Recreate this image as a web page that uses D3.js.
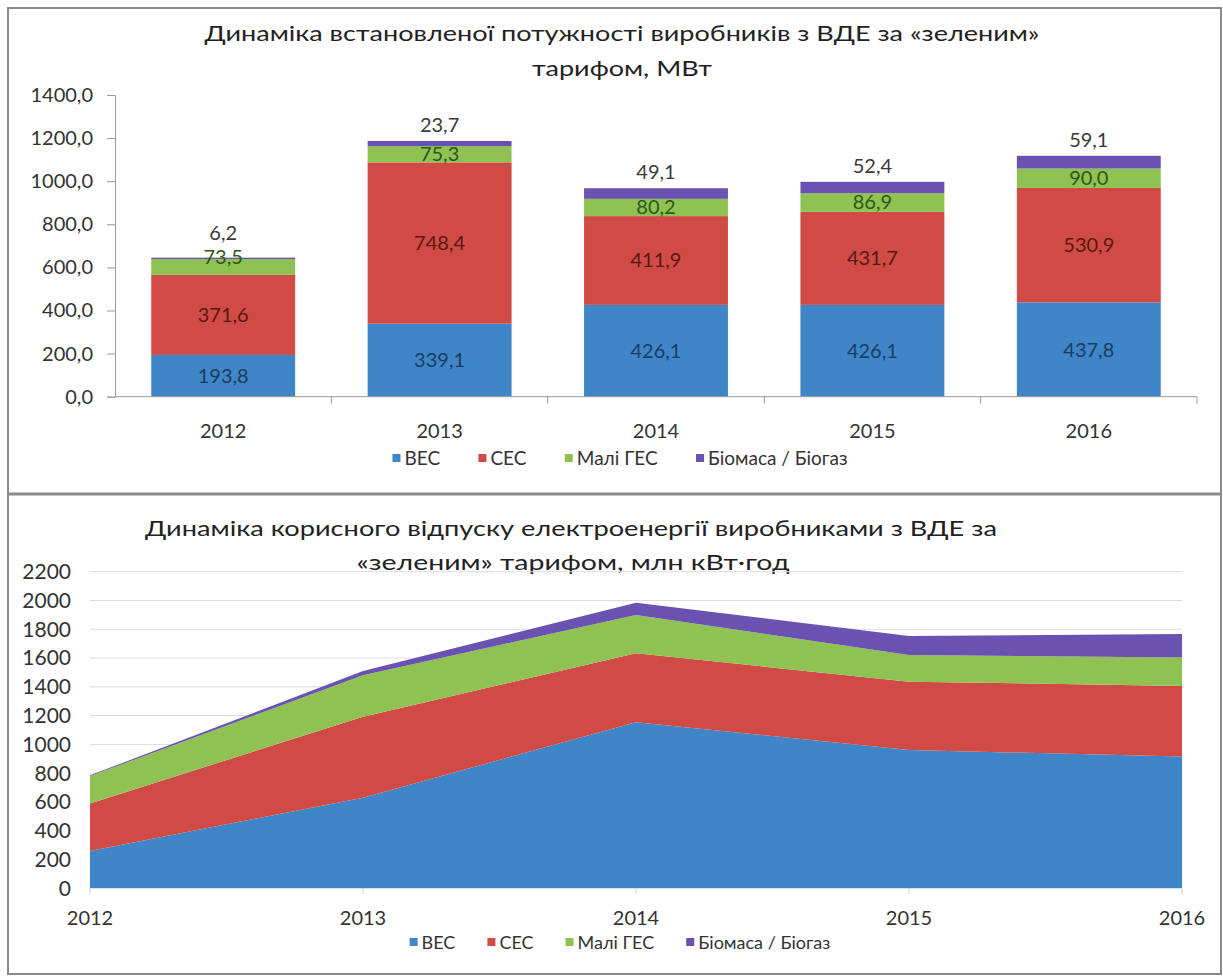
<!DOCTYPE html>
<html lang="uk">
<head>
<meta charset="utf-8">
<script src="https://cdn.jsdelivr.net/npm/d3@7"></script>
<style>
  html, body { margin: 0; padding: 0; background: #fff; }
  svg { display: block; font-family: Lato, "Open Sans", sans-serif; }
</style>
</head>
<body>
<svg id="chart" width="1223" height="979"></svg>
<script>
// Years shared by both charts
const years = ["2012", "2013", "2014", "2015", "2016"];
const seriesNames = ["ВЕС", "СЕС", "Малі ГЕС", "Біомаса / Біогаз"];
const seriesKeys = ["wind", "solar", "hydro", "bio"];

// Installed capacity, MW
const capWind  = [193.8, 339.1, 426.1, 426.1, 437.8];
const capSolar = [371.6, 748.4, 411.9, 431.7, 530.9];
const capHydro = [73.5, 75.3, 80.2, 86.9, 90.0];
const capBio   = [6.2, 23.7, 49.1, 52.4, 59.1];
const capTicks = [0, 200, 400, 600, 800, 1000, 1200, 1400];

// Electricity supplied, mln kWh
const genWind  = [260, 630, 1154, 961, 915];
const genSolar = [330, 562, 479, 475, 491];
const genHydro = [190, 288, 266, 185, 197];
const genBio   = [5, 30, 86, 132, 164];
const genTicks = [0, 200, 400, 600, 800, 1000, 1200, 1400, 1600, 1800, 2000, 2200];

const colors = { wind: "#3e86c8", solar: "#d04b45", hydro: "#90c253", bio: "#6a52b2" };
const labelColors = { wind: "#1c3c60", solar: "#5a1713", hydro: "#2d5816", bio: "#3a3a3a" };

const ua = d3.formatLocale({ decimal: ",", thousands: "", grouping: [3], currency: ["", ""] });
const fmt1 = ua.format(".1f");

const svg = d3.select("#chart");

// Panel frames
svg.append("rect").attr("x", 8).attr("y", 8).attr("width", 1213).attr("height", 966)
  .attr("fill", "#fff").attr("stroke", "#8a8a8a").attr("stroke-width", 2);
svg.append("line").attr("x1", 8).attr("x2", 1221).attr("y1", 494).attr("y2", 494)
  .attr("stroke", "#8a8a8a").attr("stroke-width", 3);

function legend(g, cx, y, size, gap) {
  const items = g.selectAll("g.item").data(seriesKeys).join("g").attr("class", "item");
  items.append("rect").attr("width", 8).attr("height", 8).attr("y", -5)
    .attr("fill", d => colors[d]);
  items.append("text").attr("x", 12).attr("y", 0).attr("dy", "0.32em")
    .attr("font-size", size).attr("fill", "#333")
    .text((d, i) => seriesNames[i]);
  let x = 0;
  const offsets = [];
  items.each(function () {
    offsets.push(x);
    x += this.getBBox().width + gap;
  });
  const total = x - gap;
  items.attr("transform", (d, i) => `translate(${cx - total / 2 + offsets[i]},${y})`);
}

// ---------- Top: stacked bars of installed capacity ----------
{
  const left = 115, right = 1197, y0 = 396.7, y1 = 95;
  const rows = years.map((yr, i) => ({ year: yr, wind: capWind[i], solar: capSolar[i], hydro: capHydro[i], bio: capBio[i] }));
  const x = d3.scaleBand().domain(years).range([left, right]).padding(0);
  const y = d3.scaleLinear().domain([0, 1400]).range([y0, y1]);
  const barW = x.bandwidth() * 0.665;
  const stacked = d3.stack().keys(seriesKeys)(rows);

  const g = svg.append("g");

  g.append("text").attr("x", 622).attr("y", 33).attr("dy", "0.35em")
    .attr("text-anchor", "middle").attr("font-size", 22).attr("fill", "#222")
    .attr("textLength", 835).attr("lengthAdjust", "spacingAndGlyphs")
    .text("Динаміка встановленої потужності виробників з ВДЕ за «зеленим»");
  g.append("text").attr("x", 622).attr("y", 68).attr("dy", "0.35em")
    .attr("text-anchor", "middle").attr("font-size", 22).attr("fill", "#222")
    .attr("textLength", 180).attr("lengthAdjust", "spacingAndGlyphs")
    .text("тарифом, МВт");

  // bars
  g.selectAll("g.layer").data(stacked).join("g").attr("class", "layer")
    .attr("fill", d => colors[d.key])
    .selectAll("rect").data(d => d).join("rect")
    .attr("x", d => x(d.data.year) + (x.bandwidth() - barW) / 2)
    .attr("width", barW)
    .attr("y", d => y(d[1]))
    .attr("height", d => y(d[0]) - y(d[1]));

  // y axis
  const ya = d3.axisLeft(y).tickValues(capTicks).tickFormat(fmt1).tickSize(8).tickPadding(14);
  const yg = g.append("g").attr("transform", `translate(${left},0)`).call(ya);
  yg.select(".domain").attr("stroke", "#9a9a9a");
  yg.selectAll(".tick line").attr("stroke", "#9a9a9a");
  yg.selectAll(".tick text").attr("font-size", 20).attr("fill", "#333")
    .attr("font-family", "Lato, sans-serif");

  // x axis: baseline with tick marks between categories
  g.append("line").attr("x1", left).attr("x2", right).attr("y1", y0).attr("y2", y0)
    .attr("stroke", "#9a9a9a");
  g.selectAll("line.cat").data(years).join("line").attr("class", "cat")
    .attr("x1", d => x(d) + x.bandwidth()).attr("x2", d => x(d) + x.bandwidth())
    .attr("y1", y0).attr("y2", y0 + 7).attr("stroke", "#9a9a9a");
  g.selectAll("text.year").data(years).join("text").attr("class", "year")
    .attr("x", d => x(d) + x.bandwidth() / 2).attr("y", 431).attr("dy", "0.35em")
    .attr("text-anchor", "middle").attr("font-size", 20).attr("fill", "#333")
    .text(d => d);

  // value labels: inner segments centred, biomass above the bar top
  const labelY = (key, d) => {
    const first = d.data.year === years[0];
    if (key === "bio") return y(d[1]) - (first ? 25 : 16);
    if (key === "hydro" && first) return y(d[1]) - 2;
    return (y(d[0]) + y(d[1])) / 2;
  };
  stacked.forEach(layer => {
    const key = layer.key;
    g.selectAll(`text.lab-${key}`).data(layer).join("text").attr("class", `lab-${key}`)
      .attr("x", d => x(d.data.year) + x.bandwidth() / 2)
      .attr("y", d => labelY(key, d))
      .attr("dy", "0.35em").attr("text-anchor", "middle")
      .attr("font-size", 20).attr("fill", labelColors[key])
      .text(d => fmt1(d.data[key]));
  });

  legend(g.append("g"), 620, 459, 19, 38);
}

// ---------- Bottom: stacked areas of electricity supplied ----------
{
  const left = 90, right = 1182, y0 = 888.3, y1 = 571.7;
  const rows = years.map((yr, i) => ({ year: yr, wind: genWind[i], solar: genSolar[i], hydro: genHydro[i], bio: genBio[i] }));
  const x = d3.scalePoint().domain(years).range([left, right]);
  const y = d3.scaleLinear().domain([0, 2200]).range([y0, y1]);
  const stacked = d3.stack().keys(seriesKeys)(rows);

  const g = svg.append("g");

  g.append("text").attr("x", 571).attr("y", 528).attr("dy", "0.35em")
    .attr("text-anchor", "middle").attr("font-size", 22).attr("fill", "#222")
    .attr("textLength", 852).attr("lengthAdjust", "spacingAndGlyphs")
    .text("Динаміка корисного відпуску електроенергії виробниками з ВДЕ за");
  g.append("text").attr("x", 573).attr("y", 562).attr("dy", "0.35em")
    .attr("text-anchor", "middle").attr("font-size", 22).attr("fill", "#222")
    .attr("textLength", 433).attr("lengthAdjust", "spacingAndGlyphs")
    .text("«зеленим» тарифом, млн кВт·год");

  // gridlines
  g.selectAll("line.grid").data(genTicks.slice(1)).join("line").attr("class", "grid")
    .attr("x1", left).attr("x2", right).attr("y1", d => y(d)).attr("y2", d => y(d))
    .attr("stroke", "#dcdcdc");

  const area = d3.area().x(d => x(d.data.year)).y0(d => y(d[0])).y1(d => y(d[1]));
  g.selectAll("path.layer").data(stacked).join("path").attr("class", "layer")
    .attr("fill", d => colors[d.key]).attr("d", area);

  // axis ticks and labels
  g.selectAll("line.xt").data(years).join("line").attr("class", "xt")
    .attr("x1", d => x(d)).attr("x2", d => x(d)).attr("y1", y0).attr("y2", y0 + 6)
    .attr("stroke", "#d0d0d0");
  g.selectAll("text.yl").data(genTicks).join("text").attr("class", "yl")
    .attr("x", 71).attr("y", d => y(d)).attr("dy", "0.35em")
    .attr("text-anchor", "end").attr("font-size", 21).attr("fill", "#333")
    .text(d => d);
  g.selectAll("text.year").data(years).join("text").attr("class", "year")
    .attr("x", d => x(d)).attr("y", 918).attr("dy", "0.35em")
    .attr("text-anchor", "middle").attr("font-size", 20).attr("fill", "#333")
    .text(d => d);

  legend(g.append("g"), 620, 943, 18, 32);
}
</script>
</body>
</html>
